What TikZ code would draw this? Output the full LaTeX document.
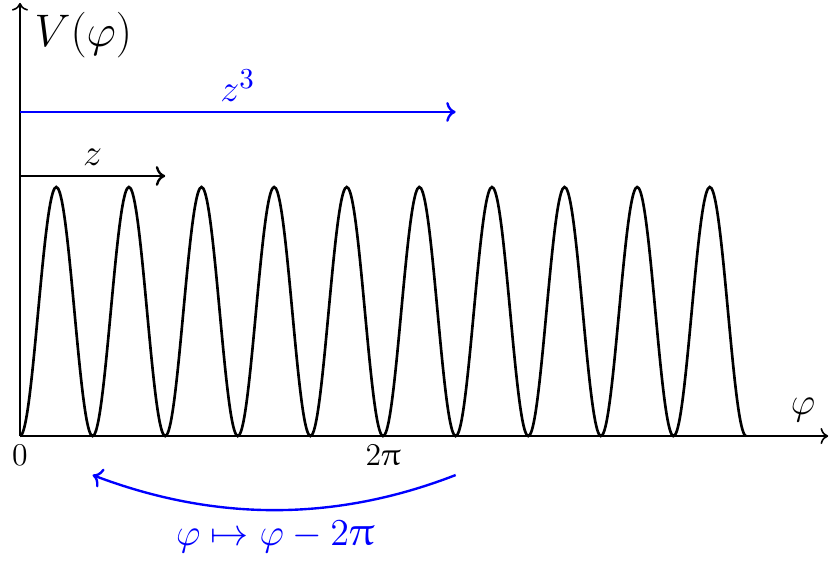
\documentclass[tikz,border=0pt]{standalone}
\usepackage{amsmath}
\usepackage{upgreek}
\usepackage{tikz}
\usetikzlibrary{arrows.meta,positioning}
\definecolor{shiftblue}{RGB}{0,0,255}
\tikzset{
    axisline/.style={->, line width=0.6pt},
    wave/.style={line width=1pt, black},
    rangearrow/.style={->, line width=0.9pt},
    biglabel/.style={font=\fontsize{15.5}{18}\selectfont},
}

\begin{document}
\begin{tikzpicture}
    \useasboundingbox (-0.266,-1.690) rectangle (10.78,5.803);

    % Axes
    \coordinate (origin) at (0,0);
    \coordinate (xend) at (10.756,0);
    \coordinate (yend) at (0,5.764);
    \draw[axisline] (origin) -- (xend);
    \draw[axisline] (origin) -- (yend);
    \node[font=\fontsize{16.5}{19}\selectfont, anchor=west] (vlabel) at (0.07,5.337) {$V(\varphi)$};
    \node[biglabel] (philabel) at (10.42,0.346) {$\varphi$};
    \node[font=\large, below] (zerolabel) at (origin) {$0$};
    \node[font=\large, below] (twopilabel) at (4.832,0) {$2\uppi$};

    % Potential
    \draw[wave] plot[domain=0:10, samples=401, smooth] (\x*0.9664, {1.657*(1-cos(360*\x))});

    % Ranges
    \coordinate (zstart) at (0,3.461);
    \coordinate (zend) at (1.933,3.461);
    \draw[rangearrow] (zstart) -- node[biglabel, above] (zlabel) {$z$} (zend);
    \coordinate (zcstart) at (0,4.313);
    \coordinate (zcend) at (5.798,4.313);
    \draw[rangearrow, shiftblue] (zcstart) -- node[biglabel, above] (zclabel) {$z^3$} (zcend);

    % Shift by 2pi
    \coordinate (shiftfrom) at (5.798,-0.519);
    \coordinate (shiftto) at (0.966,-0.519);
    \draw[rangearrow, shiftblue] (shiftfrom) .. controls (4.2,-1.14) and (2.6,-1.14) .. (shiftto);
    \node[biglabel, color=shiftblue] (shiftlabel) at (3.394,-1.344) {$\varphi \mapsto \varphi - 2\uppi$};
\end{tikzpicture}
\end{document}
